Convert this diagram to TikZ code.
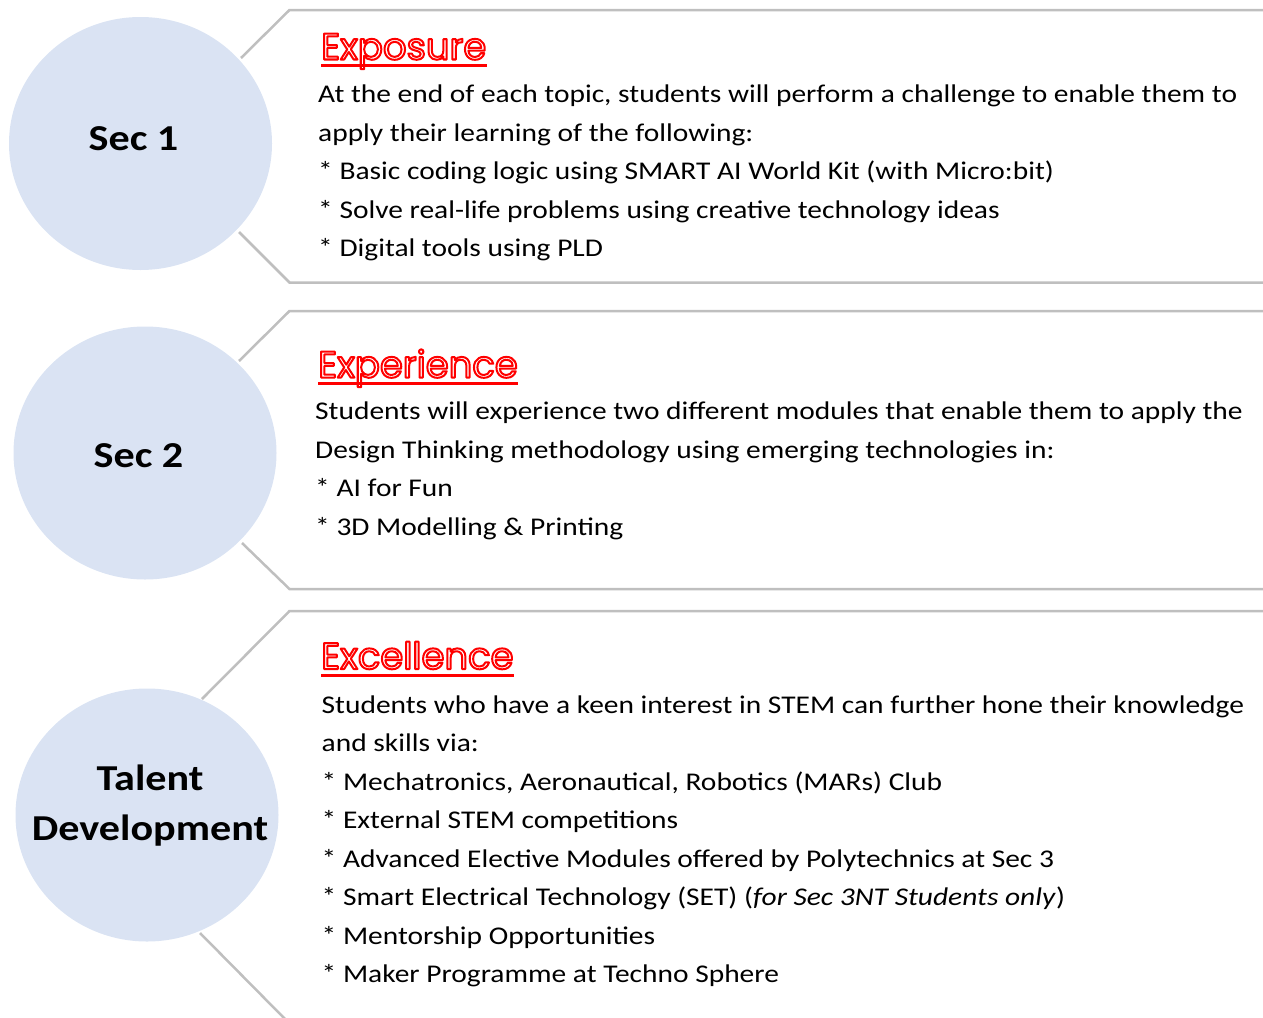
\documentclass[tikz,border=0pt]{standalone}
\usepackage{fontspec}
\setmainfont{Carlito}[FakeStretch=1.155]
\newfontfamily\titlefont{Poppins}
\usetikzlibrary{shapes.geometric}
\definecolor{circblue}{HTML}{DAE3F3}
\definecolor{linegrey}{HTML}{BFBFBF}
\definecolor{titlered}{HTML}{FF0000}
\newcommand{\ttltext}[1]{\special{pdf:code q 1 Tr 2.0 w 1 j 1 0 0 RG 1 0 0 rg}#1\special{pdf:code Q}}
\begin{document}
\begin{tikzpicture}[x=1pt,y=-1pt,
  circ/.style={ellipse, fill=circblue, draw=none, inner sep=0pt, minimum width=263pt, minimum height=253pt},
  lbl/.style={font=\fontsize{36.5}{46}\selectfont\bfseries, anchor=base, inner sep=0pt, text=black},
  body/.style={font=\fontsize{25.5}{30}\selectfont, anchor=base west, inner sep=0pt, text=black},
  ttl/.style={font=\titlefont\fontsize{37}{44}\selectfont, anchor=base west, inner sep=0pt, text=titlered},
  uline/.style={draw=titlered, line width=2.6pt},
  bracket/.style={draw=linegrey, line width=2.5pt, line join=miter}]
\useasboundingbox (0,0) rectangle (1263,1017);

% circles
\node[circ] (c1) at (140.5,143.5) {};
\node[circ] (c2) at (145,453) {};
\node[circ] (c3) at (147,815) {};
\node[lbl] (l1) at (133.5,150) {Sec 1};
\node[lbl] (l2) at (138.5,467) {Sec 2};
\node[lbl] (l3a) at (150,790) {Talent};
\node[lbl] (l3b) at (150,840.5) {Development};

% bracket coordinates
\coordinate (a1) at (241,58);  \coordinate (b1) at (289.5,10);  \coordinate (e1) at (1263,10);
\coordinate (a2) at (239,232); \coordinate (b2) at (289.5,282.5); \coordinate (e2) at (1263,282.5);
\coordinate (a3) at (239,361); \coordinate (b3) at (289.5,311); \coordinate (e3) at (1263,311);
\coordinate (a4) at (242,543); \coordinate (b4) at (289.5,589); \coordinate (e4) at (1263,589);
\coordinate (a5) at (202,699); \coordinate (b5) at (289.5,611); \coordinate (e5) at (1263,611);
\coordinate (a6) at (200,933); \coordinate (b6) at (285,1019);
\draw[bracket] (a1) -- (b1) -- (e1);
\draw[bracket] (a2) -- (b2) -- (e2);
\draw[bracket] (a3) -- (b3) -- (e3);
\draw[bracket] (a4) -- (b4) -- (e4);
\draw[bracket] (a5) -- (b5) -- (e5);
\draw[bracket] (a6) -- (b6);

% titles
\node[ttl] (t1) at (321,59.5) {\ttltext{Exposure}};
\node[ttl] (t2) at (318,377.5) {\ttltext{Experience}};
\node[ttl] (t3) at (321,669) {\ttltext{Excellence}};
\draw[uline] ([yshift=-5.8pt]t1.base west) -- ([yshift=-5.8pt]t1.base east);
\draw[uline] ([yshift=-5.8pt]t2.base west) -- ([yshift=-5.8pt]t2.base east);
\draw[uline] ([yshift=-6.2pt]t3.base west) -- ([yshift=-6.2pt]t3.base east);

% Sec 1 text
\node[body] (s1a) at (318,102.5) {At the end of each topic, students will perform a challenge to enable them to};
\node[body] (s1b) at (318,141) {apply their learning of the following:};
\node[body] (s1c) at (318,179.5) {* Basic coding logic using SMART AI World Kit (with Micro:bit)};
\node[body] (s1d) at (318,218) {* Solve real-life problems using creative technology ideas};
\node[body] (s1e) at (318,256.5) {* Digital tools using PLD};

% Sec 2 text
\node[body] (s2a) at (315,419.5) {Students will experience two different modules that enable them to apply the};
\node[body] (s2b) at (315,458) {Design Thinking methodology using emerging technologies in:};
\node[body] (s2c) at (315,496.5) {* AI for Fun};
\node[body] (s2d) at (315,535) {* 3D Modelling \& Printing};

% Talent text
\node[body] (s3a) at (321.5,713) {Students who have a keen interest in STEM can further hone their knowledge};
\node[body] (s3b) at (321.5,751.5) {and skills via:};
\node[body] (s3c) at (321.5,790) {* Mechatronics, Aeronautical, Robotics (MARs) Club};
\node[body] (s3d) at (321.5,828.5) {* External STEM competitions};
\node[body] (s3e) at (321.5,867) {* Advanced Elective Modules offered by Polytechnics at Sec 3};
\node[body] (s3f) at (321.5,905.5) {* Smart Electrical Technology (SET) (\textit{for Sec 3NT Students only})};
\node[body] (s3g) at (321.5,944) {* Mentorship Opportunities};
\node[body] (s3h) at (321.5,982.5) {* Maker Programme at Techno Sphere};
\end{tikzpicture}
\end{document}
